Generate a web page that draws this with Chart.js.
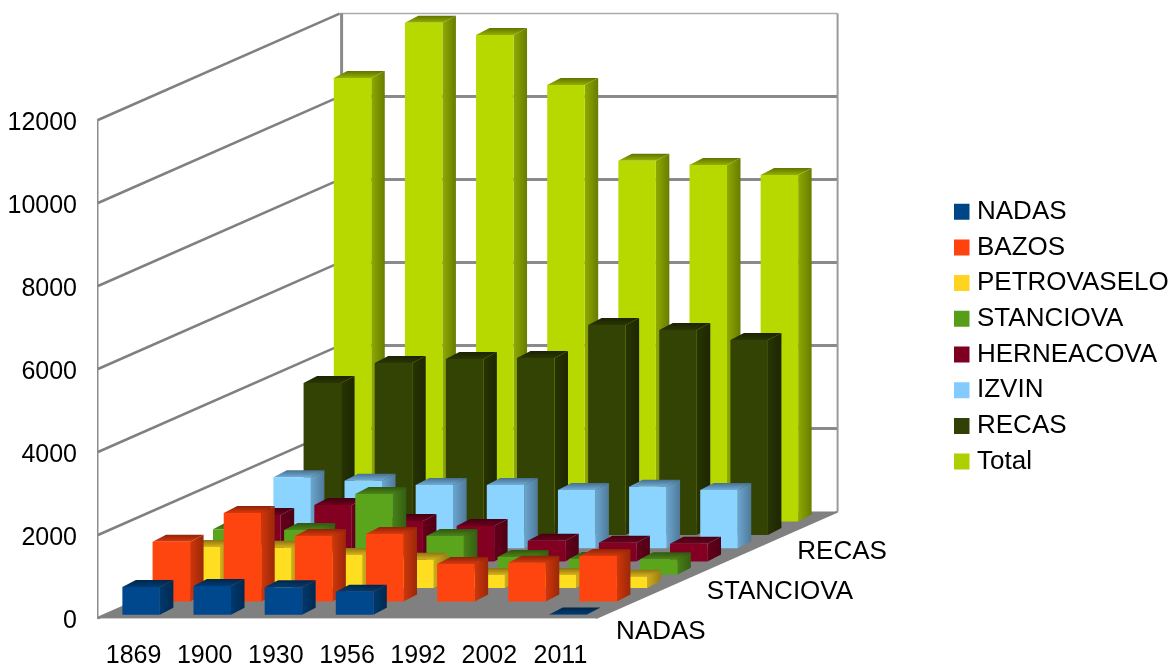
<!DOCTYPE html>
<html>
<head>
<meta charset="utf-8">
<title>Populatie</title>
<style>
  html, body { margin: 0; padding: 0; background: #fff; }
  canvas { display: block; }
</style>
<script src="https://cdn.jsdelivr.net/npm/chart.js@4/dist/chart.umd.min.js"></script>
</head>
<body>
<canvas id="grafic" width="1173" height="666"></canvas>
<script>
const ani = ['1869', '1900', '1930', '1956', '1992', '2002', '2011'];

const nadas = [667, 690, 660, 554, null, null, 6];
const bazos = [1438, 2130, 1576, 1624, 900, 932, 1094];
const petrovaselo = [990, 970, 800, 684, 315, 315, 275];
const stanciova = [1100, 1080, 1947, 935, 430, 380, 376];
const herneacova = [1120, 1361, 976, 855, 500, 453, 429];
const izvin = [1708, 1627, 1523, 1523, 1402, 1482, 1402];
const recas = [3660, 4142, 4238, 4265, 5058, 4937, 4696];
const total = [10689, 12022, 11725, 10520, 8696, 8593, 8352];

const numeSerii = ['NADAS', 'BAZOS', 'PETROVASELO', 'STANCIOVA', 'HERNEACOVA', 'IZVIN', 'RECAS', 'Total'];
const valoriSerii = [nadas, bazos, petrovaselo, stanciova, herneacova, izvin, recas, total];
const culori = ['#004586', '#ff420e', '#ffd320', '#579d1c', '#7e0021', '#83caff', '#314004', '#aecf00'];
const etichetePerete = ['NADAS', 'STANCIOVA', 'RECAS'];

// Proiectia oblica: cat se muta un rand de serii spre fundal, si adancimea unei coloane
const PAS_X = 30.2;
const PAS_Y = -13.3;
const ADANC_X = 13.5;
const ADANC_Y = -7;
const FONT = '"Liberation Sans", Arial, sans-serif';

function nuanta(hex, f) {
    const n = parseInt(hex.slice(1), 16);
    const c = v => Math.min(255, Math.round(v * f));
    return `rgb(${c(n >> 16)}, ${c((n >> 8) & 255)}, ${c(n & 255)})`;
}

function poligon(ctx, puncte, umplere) {
    ctx.beginPath();
    puncte.forEach((p, i) => i ? ctx.lineTo(p[0], p[1]) : ctx.moveTo(p[0], p[1]));
    ctx.closePath();
    ctx.fillStyle = umplere;
    ctx.fill();
}

function linie(ctx, x1, y1, x2, y2, culoare, grosime) {
    ctx.beginPath();
    ctx.moveTo(x1, y1);
    ctx.lineTo(x2, y2);
    ctx.strokeStyle = culoare;
    ctx.lineWidth = grosime;
    ctx.stroke();
}

// Podeaua, peretele din stanga si cel din spate, cu liniile de grila din scala y
const pereti = {
    id: 'pereti',
    beforeDatasetsDraw(chart) {
        const { ctx, scales: { x, y } } = chart;
        const randuri = numeSerii.length;
        const dx = PAS_X * randuri;
        const dy = PAS_Y * randuri;
        const jos = y.getPixelForValue(0);
        const sus = y.getPixelForValue(12000);

        ctx.save();
        poligon(ctx, [[x.left, jos], [x.right, jos], [x.right + dx, jos + dy], [x.left + dx, jos + dy]], '#808080');

        y.ticks.forEach(t => {
            const py = y.getPixelForValue(t.value);
            linie(ctx, x.left, py, x.left + dx, py + dy, '#808080', 2.5);
            if (t.value > 0 && t.value < 12000) {
                linie(ctx, x.left + dx, py + dy, x.right + dx, py + dy, '#8a8a8a', 3);
            }
        });
        linie(ctx, x.left + dx, sus + dy, x.right + dx, sus + dy, '#ababab', 1.5);
        linie(ctx, x.left + dx + 2, sus + dy, x.left + dx + 2, jos + dy, '#8a8a8a', 3);
        linie(ctx, x.right + dx, sus + dy, x.right + dx, jos + dy, '#9a9a9a', 2);
        linie(ctx, x.right, jos, x.right + dx, jos + dy, '#808080', 2);
        ctx.restore();
    }
};

// Fiecare serie sta pe randul ei: fetele laterale se deseneaza inainte, fata coloanei o face Chart.js
const coloane3d = {
    id: 'coloane3d',
    beforeDatasetDraw(chart, args) {
        const { ctx } = chart;
        const rand = args.index + 0.25;
        const culoare = culori[args.index];
        ctx.save();
        ctx.translate(PAS_X * rand, PAS_Y * rand);
        args.meta.data.forEach((bar, i) => {
            if (valoriSerii[args.index][i] === null) return;
            const { x, y, base, width } = bar.getProps(['x', 'y', 'base', 'width'], true);
            const st = x - width / 2;
            const dr = x + width / 2;

            const gradLat = ctx.createLinearGradient(dr, 0, dr + ADANC_X, 0);
            gradLat.addColorStop(0, nuanta(culoare, 0.82));
            gradLat.addColorStop(1, nuanta(culoare, 0.6));
            poligon(ctx, [[dr, y], [dr + ADANC_X, y + ADANC_Y], [dr + ADANC_X, base + ADANC_Y], [dr, base]], gradLat);

            const gradSus = ctx.createLinearGradient(0, y, 0, y + ADANC_Y);
            gradSus.addColorStop(0, nuanta(culoare, 0.85));
            gradSus.addColorStop(1, nuanta(culoare, 0.55));
            poligon(ctx, [[st, y], [dr, y], [dr + ADANC_X, y + ADANC_Y], [st + ADANC_X, y + ADANC_Y]], gradSus);
        });
    },
    afterDatasetDraw(chart) {
        chart.ctx.restore();
    }
};

// Etichetele axei de adancime, la fiecare al treilea rand
const axaAdancime = {
    id: 'axaAdancime',
    afterDatasetsDraw(chart) {
        const { ctx, scales: { x, y } } = chart;
        const jos = y.getPixelForValue(0);
        ctx.save();
        ctx.font = `26px ${FONT}`;
        ctx.fillStyle = '#000';
        ctx.textAlign = 'left';
        ctx.textBaseline = 'middle';
        etichetePerete.forEach(nume => {
            const rand = numeSerii.indexOf(nume) + 0.5;
            ctx.fillText(nume, x.right + PAS_X * rand + 5, jos + PAS_Y * rand + 20.5);
        });
        ctx.restore();
    }
};

// Legenda sta in dreapta, in afara zonei ocupate de proiectie
const pozitieLegenda = {
    id: 'pozitieLegenda',
    afterLayout(chart) {
        const l = chart.legend;
        l.left = 949.8;
        l.right = 1173;
        l.top = 189;
        l.bottom = 666;
    }
};

new Chart(document.getElementById('grafic'), {
    type: 'bar',
    data: {
        labels: ani,
        datasets: numeSerii.map((nume, i) => ({
            label: nume,
            data: valoriSerii[i],
            // fata coloanei e putin mai luminoasa decat patratul din legenda
            backgroundColor: nuanta(culori[i], 1.05),
            borderWidth: 0,
            grouped: false,
            categoryPercentage: 1,
            barPercentage: 0.527,
            clip: false
        }))
    },
    options: {
        responsive: false,
        animation: false,
        events: [],
        layout: { padding: { left: 0, top: 120, right: 577, bottom: 0 } },
        plugins: {
            tooltip: { enabled: false },
            legend: {
                position: 'chartArea',
                align: 'start',
                labels: {
                    font: { family: FONT, size: 26 },
                    color: '#000',
                    boxWidth: 4.5,
                    boxHeight: 5,
                    padding: 9.7,
                    // patratele au 15px, dar textul ramane aproape de ele
                    generateLabels(chart) {
                        return Chart.defaults.plugins.legend.labels.generateLabels(chart).map((item, i) => ({
                            ...item,
                            fillStyle: culori[i],
                            strokeStyle: culori[i],
                            lineWidth: 11
                        }));
                    }
                }
            }
        },
        scales: {
            x: {
                afterFit(s) { s.height = 48; },
                grid: { display: false, drawTicks: false },
                border: { color: '#9a9a9a', width: 1.5 },
                ticks: { color: '#000', font: { family: FONT, size: 25 }, padding: 23, maxRotation: 0, autoSkip: false }
            },
            y: {
                min: 0,
                max: 12000,
                afterFit(s) { s.width = 98; },
                grid: { display: false, drawTicks: false },
                border: { color: '#8c8c8c', width: 1.5 },
                ticks: {
                    color: '#000',
                    font: { family: FONT, size: 25 },
                    padding: 21,
                    stepSize: 2000,
                    labelOffset: 3,
                    callback: v => String(v)
                }
            }
        }
    },
    plugins: [pereti, coloane3d, axaAdancime, pozitieLegenda]
});
</script>
</body>
</html>
